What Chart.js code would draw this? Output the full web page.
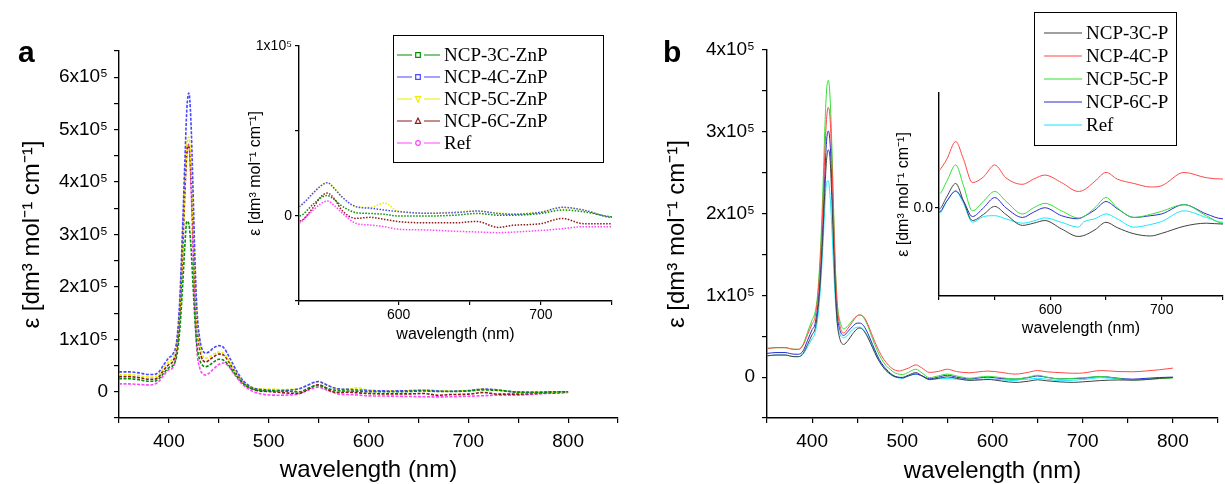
<!DOCTYPE html>
<html><head><meta charset="utf-8">
<script src="https://cdn.jsdelivr.net/npm/chart.js@4.4.1/dist/chart.umd.min.js"></script>
<style>
html,body{margin:0;padding:0;background:#fff;}
#wrap{position:relative;width:1225px;height:484px;overflow:hidden;background:#fff;}
canvas{position:absolute;}
.lbl{position:absolute;font:bold 30px "Liberation Sans",Arial,sans-serif;line-height:30px;color:#000;}
</style></head><body>
<div id="wrap">
<canvas id="ca" width="625" height="484" style="left:0px;top:0px"></canvas>
<canvas id="cb" width="585" height="484" style="left:640px;top:0px"></canvas>
<canvas id="cai" width="390" height="320" style="left:230px;top:30px"></canvas>
<canvas id="cbi" width="345" height="270" style="left:880px;top:80px"></canvas>
<div class="lbl" style="left:18px;top:37px">a</div>
<div class="lbl" style="left:663px;top:37px">b</div>
</div>
<script>
// ---------- DATA: panel a (Zn porphyrins) ----------
const wlA = [350,360,370,380,385,390,395,400,404,408,411,414,416,418,420,422,424,426,428,431,434,437,440,445,450,455,460,465,470,475,480,485,490,495,500,510,520,530,540,545,550,555,560,570,580,590,600,620,640,655,670,680,700,715,730,750,770,785,800];
const a3C = [25000,25000,23000,20000,20000,25000,36000,46000,50000,70000,120000,210000,280000,325000,320000,280000,210000,140000,90000,60000,50000,48000,50000,57000,62000,60000,50000,37000,25000,15000,8000,4500,3000,2000,2000,1500,1000,0,7000,10500,12000,9500,6000,2000,1500,1000,0,0,500,1500,500,500,1500,3500,2500,-500,-1000,-500,0];
const a4C = [38000,38000,36000,33000,33000,38000,52000,65000,72000,100000,180000,330000,440000,540000,570000,520000,400000,260000,160000,100000,78000,74000,76000,84000,88000,84000,68000,50000,33000,20000,12000,7000,5000,4000,3000,2500,3000,5500,13500,17500,19600,16000,11400,5500,4600,3500,2600,1600,2000,2900,1500,1000,2200,5100,3500,-800,-1000,0,0];
const a5C = [33000,33000,31000,28000,28000,33000,46000,58000,64000,90000,160000,290000,390000,470000,486000,440000,340000,230000,140000,90000,68000,64000,66000,72000,76000,73000,60000,44000,30000,18000,11000,7000,5500,5000,5000,4500,4500,5500,13500,17500,19600,16000,11400,5500,5000,7600,2600,1600,2500,2900,1800,1200,2500,5000,3500,-800,-1500,-1000,-500];
const a6C = [29000,29000,27000,24000,24000,29000,42000,52000,58000,85000,150000,280000,380000,455000,470000,420000,320000,210000,130000,80000,60000,57000,60000,67000,72000,70000,57000,42000,28000,16000,9000,4500,2000,1000,500,-1000,-2500,-3000,5000,11000,13500,10000,3500,-1400,-800,-2000,-3300,-4000,-4000,-3200,-6700,-5500,-4500,-1400,-4500,-4500,-3000,-2000,-1000];
const aRef = [15000,15000,14000,13000,14000,20000,32000,42000,46000,80000,160000,300000,400000,465000,472000,400000,280000,160000,80000,45000,34000,32000,35000,44000,52000,55000,48000,35000,22000,12000,5000,0,-3000,-5000,-6000,-6500,-6000,-4300,3500,7000,8800,6000,2000,-4300,-5300,-6300,-7800,-8200,-9000,-9400,-9800,-9500,-8500,-7500,-6300,-6300,-4000,-2500,-1000];
const labelsA = ['NCP-3C-ZnP','NCP-4C-ZnP','NCP-5C-ZnP','NCP-6C-ZnP','Ref'];

// ---------- DATA: panel b (free-base porphyrins) ----------
const wlB = [350,360,370,380,385,390,395,400,403,406,409,412,414,416,418,420,422,424,426,428,431,435,440,445,450,453,457,462,467,472,477,482,487,492,497,500,507,515,522,530,540,550,560,575,585,595,610,625,630,640,650,660,675,690,700,720,740,755,770,785,800];
const b3C = [26000,27000,27000,25000,25000,29000,40000,52000,58000,78000,115000,175000,225000,265000,278000,265000,215000,155000,100000,65000,46000,40000,45000,53000,59000,60000,57000,48000,36000,24000,15000,8000,3500,500,-300,-300,2500,5500,1500,-2900,-1500,300,-1500,-4000,-3500,-2900,-4800,-6500,-6300,-5000,-3300,-4500,-5900,-6400,-5800,-4200,-3500,-3700,-3000,-1500,-500];
const b4C = [35000,36000,36000,34000,34000,39000,52000,65000,72000,95000,140000,210000,270000,315000,330000,315000,260000,190000,125000,85000,62000,54000,60000,68000,75000,76000,74000,64000,50000,37000,26000,18000,12000,8500,7500,8300,11000,15000,11000,5700,7000,9700,6800,5300,6500,7400,5700,3700,4000,6000,8000,6500,5500,4700,5000,8000,6800,6500,7500,9000,11000];
const b5C = [35000,36000,36000,34000,34000,40000,55000,70000,78000,100000,150000,230000,300000,350000,363000,340000,280000,200000,130000,90000,68000,59000,63000,70000,75000,76000,73000,62000,47000,33000,22000,14000,9000,5000,3500,3100,6000,9700,5000,-700,1500,3700,1500,-1400,0,1000,-700,-2300,-2000,0,2300,0,-2200,-1500,-800,700,-1800,-3500,-3000,-2000,-1000];
const b6C = [29000,30000,30000,28000,28000,32000,45000,58000,64000,85000,125000,190000,245000,288000,301000,285000,235000,170000,110000,75000,57000,51000,56000,62000,66000,66000,63000,53000,40000,27000,17000,10000,4500,1000,-500,-1000,1500,3800,1500,-2000,0,2300,0,-2200,-1000,0,-1800,-2500,-2000,-500,1400,-200,-2200,-1800,-1400,700,-1400,-2500,-1500,-500,0];
const bRef = [26000,27000,27000,25000,25000,28000,37000,47000,53000,70000,105000,160000,205000,238000,240000,220000,180000,130000,90000,65000,52000,48000,52000,58000,61000,61000,58000,49000,37000,25000,15000,8000,3000,0,-1200,-1400,1500,3700,1000,-3300,-2000,-1800,-2500,-3500,-3000,-2300,-3300,-4400,-3200,-2500,-1400,-2500,-4400,-3800,-3100,-700,-2200,-3300,-2500,-1500,-500];
const labelsB = ['NCP-3C-P','NCP-4C-P','NCP-5C-P','NCP-6C-P','Ref'];

// ---------- TICK LABELS ----------
const xTickValues = [400,500,600,700,800];
const xTickValuesInset = [600,700];
const aYTickValues = [0,100000,200000,300000,400000,500000,600000];
const aYTickLabels = ['0','1x10⁵','2x10⁵','3x10⁵','4x10⁵','5x10⁵','6x10⁵'];
const aInsetYTickValues = [0,100000];
const aInsetYTickLabels = ['0','1x10⁵'];
const bYTickValues = [0,100000,200000,300000,400000];
const bYTickLabels = ['0','1x10⁵','2x10⁵','3x10⁵','4x10⁵'];
const bInsetYTickValues = [0];
const bInsetYTickLabels = ['0.0'];
const yTitle = 'ε [dm³ mol⁻¹ cm⁻¹]';
const xTitle = 'wavelength (nm)';

// ---------- STYLES ----------
const colorsA = ['#009000','#4848ff','#eeee00','#8b1a1a','#ff44ff'];
const markersA = ['rect','rect','triDown','tri','circle'];
const colorsB = ['#404040','#ff4848','#33e033','#2a2ad0','#18e8ff'];
const F = '"Liberation Sans", Arial, sans-serif';

function drawMarker(ctx, type, x, y, color){
  ctx.save(); ctx.strokeStyle=color; ctx.lineWidth=1.2; ctx.fillStyle='#fff';
  const r=2.3;
  ctx.beginPath();
  if(type==='rect'){ctx.rect(x-r,y-r,2*r,2*r);}
  else if(type==='tri'){ctx.moveTo(x,y-r-0.6);ctx.lineTo(x+r+0.3,y+r);ctx.lineTo(x-r-0.3,y+r);ctx.closePath();}
  else if(type==='triDown'){ctx.moveTo(x,y+r+0.6);ctx.lineTo(x+r+0.3,y-r);ctx.lineTo(x-r-0.3,y-r);ctx.closePath();}
  else {ctx.arc(x,y,r,0,Math.PI*2);}
  ctx.fill(); ctx.stroke(); ctx.restore();
}

const boxLegend = {
  id:'boxLegend',
  afterDraw(chart, args, o){
    if(!o || !o.box) return;
    const ctx=chart.ctx, b=o.box;
    ctx.save();
    ctx.fillStyle='#fff'; ctx.fillRect(b.x,b.y,b.w,b.h);
    ctx.strokeStyle='#000'; ctx.lineWidth=1; ctx.strokeRect(b.x+0.5,b.y+0.5,b.w,b.h);
    ctx.font=o.font; ctx.textBaseline='middle'; ctx.textAlign='left';
    chart.data.datasets.forEach((ds,i)=>{
      const y=b.y+o.first+i*o.step;
      ctx.strokeStyle=ds.legendColor||ds.borderColor; ctx.lineWidth=1.2; ctx.setLineDash([]);
      ctx.beginPath();
      if(ds.legendMarker){
        ctx.moveTo(b.x+o.lx0,y); ctx.lineTo(b.x+o.mx-6,y);
        ctx.moveTo(b.x+o.mx+6,y); ctx.lineTo(b.x+o.lx1,y);
      } else { ctx.moveTo(b.x+o.lx0,y); ctx.lineTo(b.x+o.lx1,y); }
      ctx.stroke();
      if(ds.legendMarker) drawMarker(ctx, ds.legendMarker, b.x+o.mx, y, ds.legendColor||ds.borderColor);
      ctx.fillStyle='#000'; ctx.fillText(ds.label, b.x+o.tx, y+1);
    });
    ctx.restore();
  }
};

function mkSets(wl, series, labels, colors, markers, width, dash){
  return series.map((vals,k)=>({
    label: labels[k],
    data: wl.map((x,i)=>({x:x, y:vals[i]})),
    borderColor: colors[k], legendColor: colors[k],
    legendMarker: markers ? markers[k] : null,
    borderWidth: width, borderDash: dash, pointRadius: 0, fill:false,
    cubicInterpolationMode:'monotone'
  }));
}

function mkLabelCb(values, labels){
  return (v)=>{ const i=values.indexOf(v); return i>=0 ? labels[i] : ''; };
}

function xScale(o){
  return {
    type:'linear', min:o.min, max:o.max,
    afterFit:(s)=>{ s.height=o.h; },
    border:{display:true,color:'#000',width:1.4},
    grid:{display:true,drawOnChartArea:false,drawTicks:true,tickLength:o.tl,color:'#000',lineWidth:1.2},
    ticks:{stepSize:50, autoSkip:false, maxRotation:0, minRotation:0, padding:o.pad, color:'#000', font:{family:F,size:o.fs},
      callback:(v)=> o.vals.indexOf(v)>=0 ? String(v) : ''},
    title:{display:true, text:xTitle, color:'#000', font:{family:F,size:o.tfs,lineHeight:1}, padding:{top:0,bottom:o.tpad}}
  };
}
function yScale(o){
  const s = {
    type:'linear', min:o.min, max:o.max,
    afterFit:(sc)=>{ sc.width=o.w; },
    border:{display:true,color:'#000',width:1.4},
    grid:{display:true,drawOnChartArea:false,drawTicks:true,tickLength:o.tl,color:'#000',lineWidth:1.2},
    ticks:{stepSize:o.step, autoSkip:false, padding:o.pad, color:'#000', font:{family:F,size:o.fs},
      callback:mkLabelCb(o.vals,o.labels)},
    title:{display:true, text:yTitle, color:'#000', font:{family:F,size:o.tfs,lineHeight:1.2}, padding:{top:o.tpad,bottom:0}}
  };
  if(o.only){ s.afterBuildTicks=(sc)=>{ sc.ticks = o.only.map(v=>({value:v})); }; }
  return s;
}

function mkChart(id, datasets, pad, xs, ys, legendOpts){
  return new Chart(document.getElementById(id), {
    type:'line',
    data:{datasets:datasets},
    options:{
      responsive:false, animation:false, devicePixelRatio:1,
      layout:{padding:pad},
      plugins:{legend:{display:false}, tooltip:{enabled:false}, boxLegend: legendOpts || {}},
      scales:{x:xs, y:ys}
    },
    plugins:[boxLegend]
  });
}

const seriesA=[a3C,a4C,a5C,a6C,aRef];
const seriesB=[b3C,b4C,b5C,b6C,bRef];

// Panel a main
mkChart('ca', mkSets(wlA, seriesA, labelsA, colorsA, markersA, 1.6, [3,1.5]),
  {top:51,right:6,left:0,bottom:0},
  xScale({min:350,max:850,h:66,tl:5,pad:7,fs:19,tfs:24,tpad:2,vals:xTickValues}),
  yScale({min:-50000,max:650000,w:119,tl:5,pad:6,fs:19,tfs:24,tpad:18,step:50000,vals:aYTickValues,labels:aYTickLabels}));

// Panel a inset
mkChart('cai', mkSets(wlA, seriesA, labelsA, colorsA, markersA, 1.5, [1.5,1.5]),
  {top:16,right:8,left:0,bottom:0},
  xScale({min:530,max:750,h:49,tl:4,pad:2,fs:14,tfs:16,tpad:7,vals:xTickValuesInset}),
  yScale({min:-50000,max:100000,w:69,tl:4,pad:3,fs:14,tfs:16,tpad:16,step:50000,vals:aInsetYTickValues,labels:aInsetYTickLabels}),
  {box:{x:163,y:5,w:210,h:127}, first:20, step:22, lx0:4, lx1:47, mx:25, tx:51, font:'19px "Liberation Serif", "Times New Roman", serif'});

// Panel b main
mkChart('cb', mkSets(wlB, seriesB, labelsB, colorsB, null, 1, []),
  {top:50,right:0,left:0,bottom:0},
  xScale({min:350,max:850,h:66,tl:5,pad:7,fs:19,tfs:24,tpad:1,vals:xTickValues}),
  yScale({min:-50000,max:400000,w:127,tl:5,pad:7,fs:19,tfs:24,tpad:23,step:50000,vals:bYTickValues,labels:bYTickLabels}),
  {box:{x:394,y:12,w:142,h:133}, first:21, step:23, lx0:10, lx1:48, mx:0, tx:52, font:'19px "Liberation Serif", "Times New Roman", serif'});

// Panel b inset
mkChart('cbi', mkSets(wlB, seriesB, labelsB, colorsB, null, 1, []),
  {top:13,right:0,left:0,bottom:0},
  xScale({min:500,max:755,h:54,tl:4,pad:2,fs:14,tfs:16,tpad:13,vals:xTickValuesInset}),
  yScale({min:-20000,max:26000,w:59,tl:4,pad:2,fs:14,tfs:16,tpad:14,step:10000,vals:bInsetYTickValues,labels:bInsetYTickLabels,only:[0]}));
</script>
</body></html>
